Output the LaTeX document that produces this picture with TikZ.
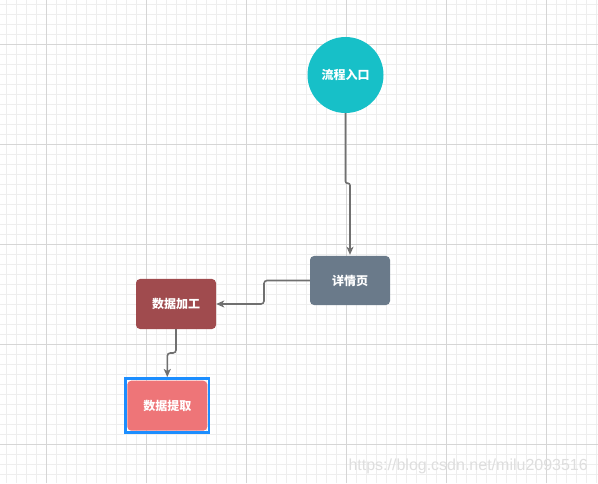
\documentclass[tikz,border=0pt]{standalone}
\usepackage{fontspec}
\setsansfont{Liberation Sans}
\newfontfamily\cjk{Noto Sans CJK SC}
\usetikzlibrary{arrows.meta,positioning}

\definecolor{entryteal}{RGB}{23,192,200}
\definecolor{detailslate}{RGB}{106,122,138}
\definecolor{processred}{RGB}{160,75,78}
\definecolor{extractpink}{RGB}{238,117,120}
\definecolor{selectblue}{RGB}{28,142,255}
\definecolor{linkgrey}{RGB}{112,112,112}
\definecolor{gridminor}{RGB}{238,238,238}
\definecolor{gridmajor}{RGB}{214,214,214}
\definecolor{wmgrey}{RGB}{222,222,222}

\tikzset{
  flowstart/.style={circle, fill=entryteal, minimum size=76pt, inner sep=0pt,
    text=white, font=\cjk\bfseries\fontsize{12pt}{14pt}\selectfont},
  flowbox/.style={rectangle, rounded corners=4pt, minimum width=80pt,
    minimum height=50pt, inner sep=0pt,
    text=white, font=\cjk\bfseries\fontsize{12pt}{14pt}\selectfont},
  link/.style={draw=linkgrey, line width=1.6pt, rounded corners=3pt,
    -{Stealth[length=8pt,width=7pt,inset=2pt]}},
}

\begin{document}
\begin{tikzpicture}[x=1pt,y=1pt]
    \useasboundingbox (0,0) rectangle (598,483);
    \fill[white] (0,0) rectangle (598,483);

    % grid
    \foreach \i in {0,...,59} \draw[gridminor, line width=1.2pt] ({6.7+10*\i},0) -- ++(0,483);
    \foreach \j in {0,...,47} \draw[gridminor, line width=1.2pt] (0,{8.3+10*\j}) -- ++(598,0);
    \foreach \i in {0,...,5} \draw[gridmajor, line width=1.2pt] ({46.7+100*\i},0) -- ++(0,483);
    \foreach \j in {0,...,4} \draw[gridmajor, line width=1.2pt] (0,{38.3+100*\j}) -- ++(598,0);

    \node[flowstart] (entry) at (345.5,408) {流程入口};
    \node[flowbox,fill=detailslate,minimum height=49pt] (detail) at (350,202.5) {详情页};
    \node[flowbox,fill=processred] (process) at (176,179) {数据加工};
    \node[flowbox,fill=extractpink] (extract) at (167.3,77.3) {数据提取};
    \draw[selectblue, line width=2.6pt]
      ([shift={(-1.8,-1.5)}]extract.south west) rectangle ([shift={(1.5,1.8)}]extract.north east);

    \coordinate (jog0) at (350,299.7);
    \coordinate (jog1) at (264,190);
    \coordinate (jog2) at (167.3,130);

    \draw[link, rounded corners=2pt] (entry.south) |- (jog0) -- ([yshift=1pt]detail.north);
    \draw[link] (detail.west) -| (jog1) |- (process.east);
    \draw[link] (process.south) |- (jog2) -- ([yshift=3.5pt]extract.north);

    \node[anchor=base east, inner sep=0pt, text=wmgrey,
      font=\sffamily\fontsize{16pt}{18pt}\selectfont] (mark) at (588,12.3) {https://blog.csdn.net/milu2093516};
\end{tikzpicture}
\end{document}
